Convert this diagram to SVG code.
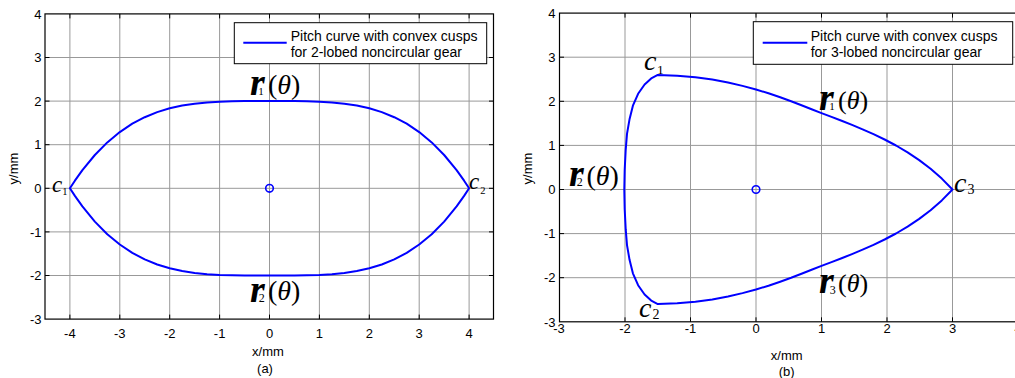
<svg xmlns="http://www.w3.org/2000/svg" width="1015" height="378" viewBox="0 0 1015 378">
<style>
.grid{stroke:#999;stroke-width:1;fill:none}
.frame{stroke:#000;stroke-width:1.2;fill:none}
.tick{stroke:#000;stroke-width:1;fill:none}
.curve{stroke:#0000ff;stroke-width:2;fill:none;stroke-linejoin:round}
.mark{stroke:#0000ff;stroke-width:1.6;fill:none}
.tk{font-family:"Liberation Sans",Arial,sans-serif;font-size:13px;fill:#000}
.tkx{text-anchor:middle}
.tky{text-anchor:end}
.lg{font-family:"Liberation Sans",Arial,sans-serif;font-size:14px;fill:#000}
.lbox{fill:#fff;stroke:#000;stroke-width:1}
.m{font-family:"Liberation Serif","Times New Roman",serif;fill:#000}
.rv{font-size:38px;font-weight:bold;font-style:italic}
.it{font-style:italic}
</style>

<g id="plot-a">
  <rect x="0" y="0" width="1015" height="378" fill="#fff"/>
  <g class="grid">
    <path d="M69.9 13.9V319.1M119.8 13.9V319.1M169.7 13.9V319.1M219.6 13.9V319.1M269.5 13.9V319.1M319.4 13.9V319.1M369.3 13.9V319.1M419.2 13.9V319.1M469.1 13.9V319.1"/>
    <path d="M45 57.5H493.5M45 101.1H493.5M45 144.7H493.5M45 188.3H493.5M45 231.9H493.5M45 275.5H493.5"/>
  </g>
  <g class="tick">
    <path d="M69.9 319.1v-4.5M119.8 319.1v-4.5M169.7 319.1v-4.5M219.6 319.1v-4.5M269.5 319.1v-4.5M319.4 319.1v-4.5M369.3 319.1v-4.5M419.2 319.1v-4.5M469.1 319.1v-4.5"/>
    <path d="M69.9 13.9v4.5M119.8 13.9v4.5M169.7 13.9v4.5M219.6 13.9v4.5M269.5 13.9v4.5M319.4 13.9v4.5M369.3 13.9v4.5M419.2 13.9v4.5M469.1 13.9v4.5"/>
    <path d="M45 57.5h4.5M45 101.1h4.5M45 144.7h4.5M45 188.3h4.5M45 231.9h4.5M45 275.5h4.5"/>
    <path d="M493.5 57.5h-4.5M493.5 101.1h-4.5M493.5 144.7h-4.5M493.5 188.3h-4.5M493.5 231.9h-4.5M493.5 275.5h-4.5"/>
  </g>
  <rect class="frame" x="45" y="13.9" width="448.5" height="305.2"/>
  <g class="tk tkx">
    <text x="69.9" y="338.3">-4</text><text x="119.8" y="338.3">-3</text><text x="169.7" y="338.3">-2</text><text x="219.6" y="338.3">-1</text><text x="269.5" y="338.3">0</text><text x="319.4" y="338.3">1</text><text x="369.3" y="338.3">2</text><text x="419.2" y="338.3">3</text><text x="469.1" y="338.3">4</text>
  </g>
  <g class="tk tky">
    <text x="41.5" y="18.6">4</text><text x="41.5" y="62.2">3</text><text x="41.5" y="105.8">2</text><text x="41.5" y="149.4">1</text><text x="41.5" y="193">0</text><text x="41.5" y="236.6">-1</text><text x="41.5" y="280.2">-2</text><text x="41.5" y="323.8">-3</text>
  </g>
  <text class="tk tkx" x="268" y="355.5">x/mm</text>
  <text class="tk tkx" x="265" y="372.5">(a)</text>
  <text class="tk tkx" transform="translate(18 168.5) rotate(-90)">y/mm</text>
  <path class="curve" d="M69.9 188.3L74.9 180.7L82.4 170.2L94.85 155L107.3 142.4L119.8 132.1L132.3 123.7L144.75 117.2L157.2 112.1L169.7 108.3L182.2 105.5L194.65 103.7L207.1 102.4L219.6 101.7L232.1 101.3L244.55 101.1L269.5 101.1L294.45 101.1L306.9 101.3L319.4 101.7L331.9 102.4L344.35 103.7L356.8 105.5L369.3 108.3L381.8 112.1L394.25 117.2L406.7 123.7L419.2 132.1L431.7 142.4L444.15 155L456.6 170.2L464.1 180.7L469.1 188.3L464.1 195.9L456.6 206.4L444.15 221.6L431.7 234.2L419.2 244.5L406.7 252.9L394.25 259.4L381.8 264.5L369.3 268.3L356.8 271.1L344.35 272.9L331.9 274.2L319.4 274.9L306.9 275.3L294.45 275.5L269.5 275.5L244.55 275.5L232.1 275.3L219.6 274.9L207.1 274.2L194.65 272.9L182.2 271.1L169.7 268.3L157.2 264.5L144.75 259.4L132.3 252.9L119.8 244.5L107.3 234.2L94.85 221.6L82.4 206.4L74.9 195.9Z"/>
  <circle class="mark" cx="269.5" cy="188.3" r="3.8"/>
  <g id="legend-a">
    <rect class="lbox" x="234.3" y="22.7" width="252.4" height="41"/>
    <line x1="243.3" y1="42.7" x2="286.7" y2="42.7" stroke="#0000ff" stroke-width="2"/>
    <text class="lg" x="290.7" y="40.7">Pitch curve with convex cusps</text>
    <text class="lg" x="290.7" y="57.3">for 2-lobed noncircular gear</text>
  </g>
  <g id="labels-a" class="m">
    <text x="250" y="95"><tspan class="rv">r</tspan><tspan font-size="11" dx="-6.5">1</tspan><tspan font-size="28" dx="4.2" dy="-1">(</tspan><tspan class="it" font-size="28">θ</tspan><tspan font-size="28">)</tspan></text>
    <text x="250" y="301.5"><tspan class="rv">r</tspan><tspan font-size="12" dx="-6">2</tspan><tspan font-size="28" dx="3.2" dy="-1.5">(</tspan><tspan class="it" font-size="28">θ</tspan><tspan font-size="28">)</tspan></text>
    <text x="52" y="192"><tspan class="it" font-size="23">c</tspan><tspan font-size="10.5" dy="2.5">1</tspan></text>
    <text x="469" y="189"><tspan class="it" font-size="23">c</tspan><tspan font-size="10.5" dx="1" dy="4.5">2</tspan></text>
  </g>
</g>

<g id="plot-b">
  <g class="grid">
    <path d="M625 13.1V321.8M690.5 13.1V321.8M756 13.1V321.8M821.5 13.1V321.8M887 13.1V321.8M952.5 13.1V321.8"/>
    <path d="M559.5 57.2H1018M559.5 101.3H1018M559.5 145.4H1018M559.5 189.5H1018M559.5 233.6H1018M559.5 277.7H1018"/>
  </g>
  <g class="tick">
    <path d="M625 321.8v-4.5M690.5 321.8v-4.5M756 321.8v-4.5M821.5 321.8v-4.5M887 321.8v-4.5M952.5 321.8v-4.5"/>
    <path d="M625 13.1v4.5M690.5 13.1v4.5M756 13.1v4.5M821.5 13.1v4.5M887 13.1v4.5M952.5 13.1v4.5"/>
    <path d="M559.5 57.2h4.5M559.5 101.3h4.5M559.5 145.4h4.5M559.5 189.5h4.5M559.5 233.6h4.5M559.5 277.7h4.5"/>
  </g>
  <rect class="frame" x="559.5" y="13.1" width="458.5" height="308.7"/>
  <g class="tk tkx">
    <text x="559" y="332.7">-3</text><text x="625" y="332.7">-2</text><text x="690.5" y="332.7">-1</text><text x="756" y="332.7">0</text><text x="821.5" y="332.7">1</text><text x="887" y="332.7">2</text><text x="952.5" y="332.7">3</text><text x="1018" y="332.7">4</text>
  </g>
  <g class="tk tky">
    <text x="555.5" y="17.8">4</text><text x="555.5" y="61.9">3</text><text x="555.5" y="106">2</text><text x="555.5" y="150.1">1</text><text x="555.5" y="194.2">0</text><text x="555.5" y="238.3">-1</text><text x="555.5" y="282.4">-2</text><text x="555.5" y="326.5">-3</text>
  </g>
  <text class="tk tkx" x="786.7" y="359.5">x/mm</text>
  <text class="tk tkx" x="786.7" y="375.5">(b)</text>
  <text class="tk tkx" transform="translate(532 168.5) rotate(-90)">y/mm</text>
  <path class="curve" d="M952.5 189.5L941.8 178.6L930.6 168.8L919.2 160.1L907.6 152.4L896 145.5L884.6 139.5L873.5 134.1L862.6 129.3L852 124.9L841.6 120.8L831.5 116.9L821.5 113.1L811.6 109.2L801.5 105.2L791.1 101.2L780.2 97.3L768.5 93.3L756 89.5L742.5 85.9L728 82.5L712.3 79.6L695.4 77.3L677.2 75.7L657.8 74.9L651.2 78.4L644.6 84.5L638.1 93.8L632.9 105.7L629.6 118.9L627 133.9L625.7 149.8L624.7 169.7L624.3 189.5L624.7 209.3L625.7 229.2L627 245.1L629.6 260.1L632.9 273.3L638.1 285.2L644.6 294.5L651.2 300.6L657.8 304.1L677.2 303.3L695.4 301.7L712.3 299.4L728 296.5L742.5 293.1L756 289.5L768.5 285.7L780.2 281.7L791.1 277.8L801.5 273.8L811.6 269.8L821.5 265.9L831.5 262.1L841.6 258.2L852 254.1L862.6 249.7L873.5 244.9L884.6 239.5L896 233.5L907.6 226.6L919.2 218.9L930.6 210.2L941.8 200.4Z"/>
  <circle class="mark" cx="756" cy="189.5" r="3.8"/>
  <g id="legend-b">
    <rect class="lbox" x="753.3" y="21.7" width="259.4" height="42.6"/>
    <line x1="762.7" y1="42.7" x2="807.3" y2="42.7" stroke="#0000ff" stroke-width="2"/>
    <text class="lg" x="810.7" y="40.5" font-size="14.4">Pitch curve with convex cusps</text>
    <text class="lg" x="810.7" y="57" font-size="14.4">for 3-lobed noncircular gear</text>
  </g>
  <g id="labels-b" class="m">
    <text x="819" y="110"><tspan class="rv">r</tspan><tspan font-size="11" dx="-4.5">1</tspan><tspan font-size="26" dx="3.2" dy="-1">(</tspan><tspan class="it" font-size="26">θ</tspan><tspan font-size="26">)</tspan></text>
    <text x="569" y="185.5"><tspan class="rv">r</tspan><tspan font-size="12" dx="-7">2</tspan><tspan font-size="28" dx="3.7" dy="-0.5">(</tspan><tspan class="it" font-size="28">θ</tspan><tspan font-size="28">)</tspan></text>
    <text x="819" y="293"><tspan class="rv">r</tspan><tspan font-size="12" dx="-4" dy="1">3</tspan><tspan font-size="26" dx="2.2" dy="-2">(</tspan><tspan class="it" font-size="26">θ</tspan><tspan font-size="26">)</tspan></text>
    <text x="644" y="70"><tspan class="it" font-size="28">c</tspan><tspan font-size="13.5" dx="0.5" dy="4">1</tspan></text>
    <text x="639" y="316.5"><tspan class="it" font-size="28">c</tspan><tspan font-size="14" dx="1" dy="2">2</tspan></text>
    <text x="954" y="191.5"><tspan class="it" font-size="28">c</tspan><tspan font-size="14" dx="1" dy="2">3</tspan></text>
  </g>
</g>
</svg>
